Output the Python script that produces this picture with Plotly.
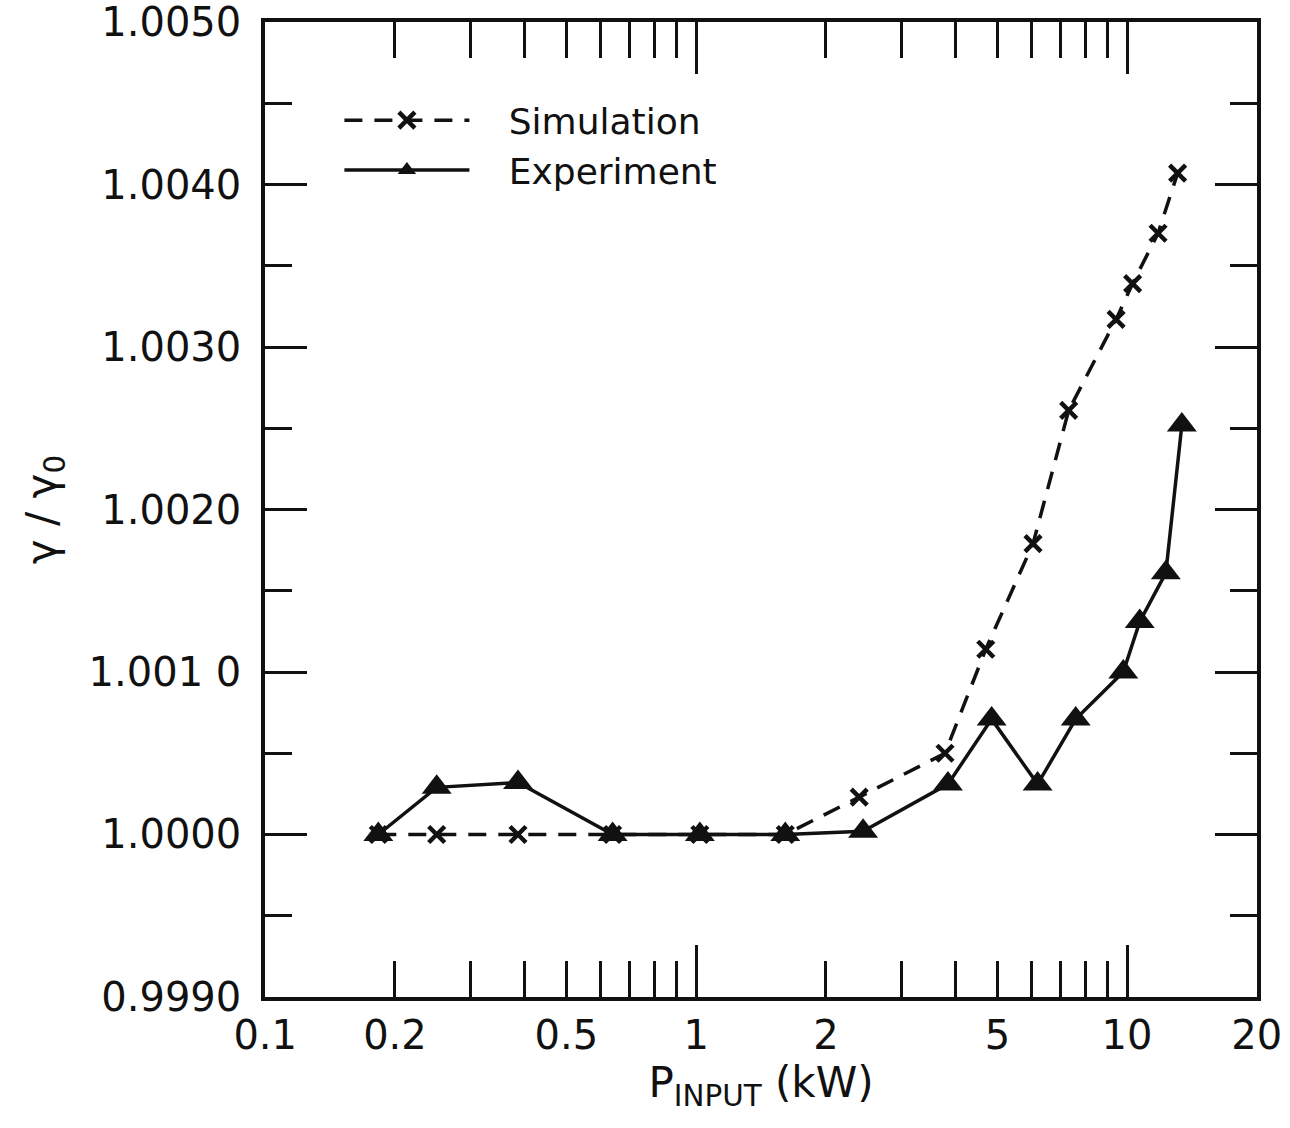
import plotly.graph_objects as go

# Simulation (x markers, dashed)
sim_p = [0.183, 0.25, 0.386, 0.64, 1.02, 1.61, 2.39, 3.78, 4.70, 6.05, 7.32, 9.43, 10.3, 11.8, 13.1]
sim_g = [1.0000, 1.0000, 1.0000, 1.0000, 1.0000, 1.0000, 1.00023, 1.00050, 1.00114, 1.00179,
         1.00261, 1.00317, 1.00339, 1.00370, 1.00407]

# Experiment (triangles, solid)
exp_p = [0.183, 0.25, 0.386, 0.64, 1.02, 1.61, 2.44, 3.84, 4.85, 6.2, 7.6, 9.8, 10.7, 12.3, 13.4]
exp_g = [1.0000, 1.00029, 1.00032, 1.0000, 1.0000, 1.0000, 1.00002, 1.00031, 1.00071, 1.00031,
         1.00071, 1.00100, 1.00131, 1.00161, 1.00252]

x_label_vals = [0.1, 0.2, 0.5, 1, 2, 5, 10, 20]
x_label_text = ["0.1", "0.2", "0.5", "1", "2", "5", "10", "20"]
x_minor_vals = [0.3, 0.4, 0.6, 0.7, 0.8, 0.9, 3, 4, 6, 7, 8, 9]
x_long_vals = [1, 10]

y_ticks = [0.9990, 1.0000, 1.0010, 1.0020, 1.0030, 1.0040, 1.0050]
y_ticktext = ["0.9990", "1.0000", "1.001 0", "1.0020", "1.0030", "1.0040", "1.0050"]
y_minor = [0.99950, 1.00050, 1.00150, 1.00250, 1.00350, 1.00450]

FONT = "DejaVu Sans"
BLK = "#111111"
PAD = "\u00a0\u00a0\u00a0"

fig = go.Figure()
fig.add_trace(go.Scatter(
    x=sim_p, y=sim_g, name=PAD + "Simulation", mode="lines+markers",
    line=dict(color=BLK, width=3.5, dash="18px,12px"),
    marker=dict(symbol="x-thin", size=16, line=dict(color=BLK, width=4.5)),
))
fig.add_trace(go.Scatter(
    x=exp_p, y=exp_g, name=PAD + "Experiment", mode="lines+markers",
    line=dict(color=BLK, width=3.5),
    marker=dict(symbol="triangle-up", size=26, color=BLK),
))
# overlay axis for the longer decade ticks
fig.add_trace(go.Scatter(x=[None], y=[None], xaxis="x2", showlegend=False, hoverinfo="skip"))

xr = [-1.0005, 1.3015]
yr = [0.99899995, 1.00500005]
fig.update_layout(
    width=1290, height=1128,
    margin=dict(l=265, r=33, t=22, b=131, autoexpand=False),
    paper_bgcolor="white", plot_bgcolor="white",
    font=dict(family=FONT, color=BLK, size=40),
    showlegend=True,
    legend=dict(x=0.075, y=0.93, xanchor="left", yanchor="top",
                bgcolor="rgba(0,0,0,0)", font=dict(size=36, family=FONT),
                itemwidth=125, tracegroupgap=0),
    xaxis=dict(
        type="log", range=xr, tickmode="array", automargin=False,
        tickvals=x_label_vals, ticktext=x_label_text,
        ticks="inside", ticklen=36, tickwidth=3, tickcolor=BLK,
        showline=True, linewidth=3.5, linecolor=BLK, mirror="ticks",
        showgrid=False, zeroline=False,
        ticklabelstandoff=0, ticklabeloverflow="allow",
        minor=dict(tickmode="array", tickvals=x_minor_vals, ticks="inside",
                   ticklen=36, tickwidth=3, tickcolor=BLK, showgrid=False),
        title=dict(text="P<sub>INPUT</sub> (kW)", font=dict(size=42), standoff=4),
    ),
    xaxis2=dict(
        type="log", range=xr, overlaying="x", side="bottom", anchor="y",
        tickmode="array", tickvals=x_long_vals, showticklabels=False, automargin=False,
        ticks="inside", ticklen=52, tickwidth=3, tickcolor=BLK,
        showline=False, mirror="ticks", showgrid=False, zeroline=False,
    ),
    yaxis=dict(
        range=yr, tickmode="array", tickvals=y_ticks, ticktext=y_ticktext,
        automargin=False,
        ticks="inside", ticklen=42, tickwidth=3, tickcolor=BLK,
        showline=True, linewidth=3.5, linecolor=BLK, mirror="ticks",
        showgrid=False, zeroline=False, ticklabelstandoff=12,
        ticklabeloverflow="allow",
        minor=dict(tickmode="array", tickvals=y_minor,
                   ticks="inside", ticklen=27,
                   tickwidth=3, tickcolor=BLK, showgrid=False),
        title=dict(text="γ / γ<sub>0</sub>", font=dict(size=42), standoff=20),
    ),
)

fig.write_html("out.html")
